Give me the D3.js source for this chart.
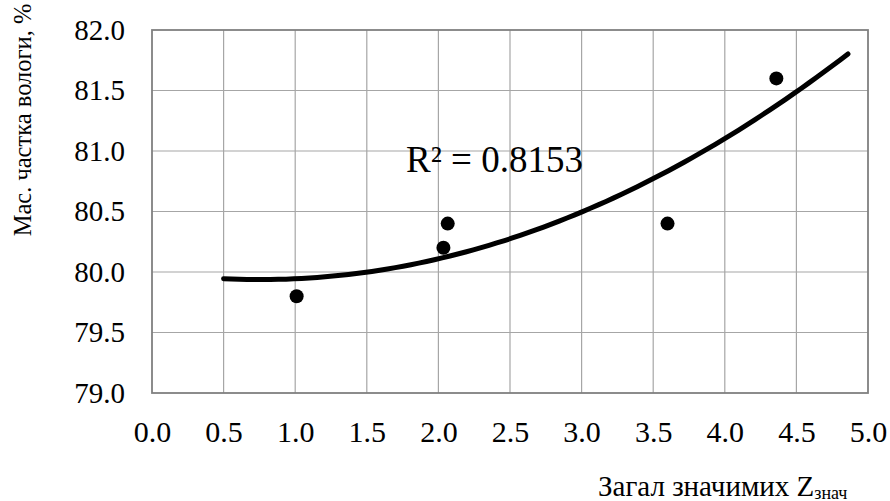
<!DOCTYPE html>
<html>
<head>
<meta charset="utf-8">
<script src="https://cdn.jsdelivr.net/npm/d3@7"></script>
<style>
  body { margin: 0; background: #fff; }
</style>
</head>
<body>
<svg id="chart" width="890" height="501"></svg>
<script>
// measured points
const zValues = [1.01, 2.035, 2.065, 3.6, 4.36]
const moisture = [79.8, 80.2, 80.4, 80.4, 81.6]
const xTicks = [0, 0.5, 1, 1.5, 2, 2.5, 3, 3.5, 4, 4.5, 5]
const yTicks = [79, 79.5, 80, 80.5, 81, 81.5, 82]
const trendRange = [0.5, 4.86]
const r2Label = "R² = 0.8153"

const width = 890, height = 501
const marginLeft = 152, marginRight = 22, marginTop = 30, marginBottom = 108
const FONT = '"Liberation Serif"'

const svg = d3.select('#chart')

const x = d3.scaleLinear().domain([0, 5]).range([marginLeft, width - marginRight])
const y = d3.scaleLinear().domain([79, 82]).range([height - marginBottom, marginTop])

// grid
svg.append('g')
    .selectAll('line')
    .data(xTicks.slice(1, -1))
    .join('line')
    .attr('x1', d => x(d)).attr('x2', d => x(d))
    .attr('y1', y(79)).attr('y2', y(82))
    .attr('stroke', '#a6a6a6').attr('stroke-width', 1.2)

svg.append('g')
    .selectAll('line')
    .data(yTicks.slice(1, -1))
    .join('line')
    .attr('y1', d => y(d)).attr('y2', d => y(d))
    .attr('x1', x(0)).attr('x2', x(5))
    .attr('stroke', '#a6a6a6').attr('stroke-width', 1.2)

// plot border
svg.append('rect')
    .attr('x', x(0)).attr('y', y(82))
    .attr('width', x(5) - x(0)).attr('height', y(79) - y(82))
    .attr('fill', 'none').attr('stroke', '#808080').attr('stroke-width', 1.8)

// axes (labels only)
svg.append('g')
    .attr('transform', `translate(0,${y(79)})`)
    .call(d3.axisBottom(x).tickValues(xTicks).tickFormat(d3.format('.1f')).tickSize(0).tickPadding(28))
    .call(g => g.select('.domain').remove())
    .call(g => g.attr('font-family', null).attr('font-size', null))
    .selectAll('text')
    .style('font-size', '30px')
    .style('font-family', FONT)
    .attr('fill', '#000')

svg.append('g')
    .attr('transform', `translate(${x(0)},0)`)
    .call(d3.axisLeft(y).tickValues(yTicks).tickFormat(d3.format('.1f')).tickSize(0).tickPadding(27))
    .call(g => g.select('.domain').remove())
    .call(g => g.attr('font-family', null).attr('font-size', null))
    .selectAll('text')
    .style('font-size', '29px')
    .style('font-family', FONT)
    .attr('fill', '#000')

// quadratic trend (least squares on the points)
function quadFit(xs, ys) {
    let s = [0, 0, 0, 0, 0], t = [0, 0, 0]
    xs.forEach((xi, i) => {
        for (let k = 0; k < 5; k++) s[k] += Math.pow(xi, k)
        for (let k = 0; k < 3; k++) t[k] += ys[i] * Math.pow(xi, k)
    })
    const A = [[s[0], s[1], s[2], t[0]], [s[1], s[2], s[3], t[1]], [s[2], s[3], s[4], t[2]]]
    for (let i = 0; i < 3; i++) {
        for (let j = i + 1; j < 3; j++) {
            const f = A[j][i] / A[i][i]
            for (let k = i; k < 4; k++) A[j][k] -= f * A[i][k]
        }
    }
    const c = [0, 0, 0]
    for (let i = 2; i >= 0; i--) {
        let v = A[i][3]
        for (let k = i + 1; k < 3; k++) v -= A[i][k] * c[k]
        c[i] = v / A[i][i]
    }
    return xv => c[0] + c[1] * xv + c[2] * xv * xv
}
const fit = quadFit(zValues, moisture)
const trendPts = d3.range(trendRange[0], trendRange[1] + 1e-9, (trendRange[1] - trendRange[0]) / 80)
    .map(v => [v, fit(v)])

svg.append('path')
    .datum(trendPts)
    .attr('fill', 'none')
    .attr('stroke', '#000')
    .attr('stroke-width', 5)
    .attr('stroke-linecap', 'round')
    .attr('d', d3.line().x(d => x(d[0])).y(d => y(d[1])))

// points
svg.append('g')
    .selectAll('circle')
    .data(zValues.map((v, i) => [v, moisture[i]]))
    .join('circle')
    .attr('cx', d => x(d[0]))
    .attr('cy', d => y(d[1]))
    .attr('r', 7)
    .attr('fill', '#000')

// R² label
svg.append('text')
    .attr('x', 406).attr('y', 172)
    .style('font-family', FONT)
    .style('font-size', '37px')
    .text(r2Label)

// axis titles
svg.append('text')
    .attr('transform', 'translate(31,120) rotate(-90)')
    .attr('text-anchor', 'middle')
    .style('font-family', FONT)
    .style('font-size', '24.5px')
    .text('Мас. частка вологи, %')

const xt = svg.append('text')
    .attr('x', 598).attr('y', 496)
    .style('font-family', FONT)
    .style('font-size', '29px')
xt.append('tspan').text('Загал значимих Z')
xt.append('tspan').style('font-size', '18px').attr('dy', 3).text('знач')
</script>
</body>
</html>
